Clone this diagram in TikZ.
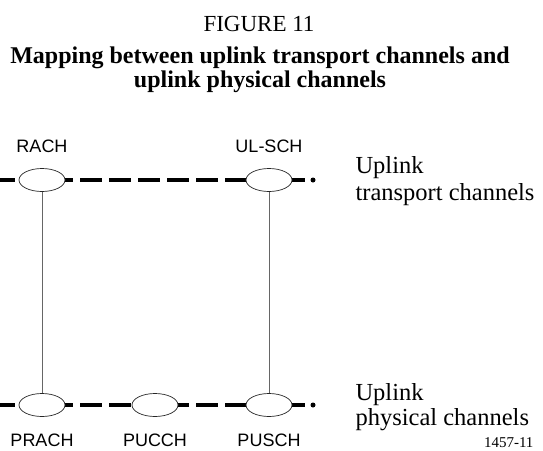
\documentclass[tikz,border=0pt]{standalone}
\usepackage{fontspec}
\setmainfont{Liberation Serif}
\newfontfamily\labfont{Liberation Sans}
\usetikzlibrary{shapes.geometric}
\begin{document}
\begin{tikzpicture}[x=1pt,y=-1pt,
  chan/.style={ellipse,draw=black!85,line width=0.7pt,fill=white,minimum width=46pt,minimum height=23pt,inner sep=0pt},
  bus/.style={line width=4.8pt,dash pattern=on 22pt off 7pt},
  enddot/.style={circle,fill=black,inner sep=0pt,minimum size=5pt},
  link/.style={draw=black!60,line width=0.8pt},
  lab/.style={anchor=base,font=\labfont\fontsize{18}{20}\selectfont},
  side/.style={anchor=base west,font=\fontsize{24.5}{27}\selectfont},
  ttl/.style={anchor=base,font=\fontsize{24}{27}\selectfont\bfseries}
]
\useasboundingbox (0,0) rectangle (543,450);
% title
\node[anchor=base,font=\fontsize{23}{26}\selectfont] (fig) at (259,31) {FIGURE 11};
\node[ttl] (t1) at (260,63) {Mapping between uplink transport channels and};
\node[ttl] (t2) at (260,87) {uplink physical channels};
% top bus
\coordinate (tl) at (-7,180);
\coordinate (tr) at (305,180);
\draw[bus] (tl) -- (tr);
\node[enddot] (tdot) at (313,180) {};
\node[chan] (rach) at (42,180) {};
\node[chan] (ulsch) at (269,180) {};
% bottom bus
\coordinate (bl) at (-7,405);
\coordinate (br) at (305,405);
\draw[bus] (bl) -- (br);
\node[enddot] (bdot) at (313,405) {};
\node[chan] (prach) at (42,405) {};
\node[chan] (pucch) at (155,405) {};
\node[chan] (pusch) at (269,405) {};
% links
\draw[link] (rach) -- (prach);
\draw[link] (ulsch) -- (pusch);
% labels
\node[lab] (lrach) at (42,152) {RACH};
\node[lab] (lulsch) at (269,152) {UL-SCH};
\node[lab] (lprach) at (42,446) {PRACH};
\node[lab] (lpucch) at (155,446) {PUCCH};
\node[lab] (lpusch) at (269,446) {PUSCH};
% side texts
\node[side] (s1) at (352,173) {Uplink};
\node[side] (s2) at (352,200) {transport channels};
\node[side] (s3) at (352,400) {Uplink};
\node[side] (s4) at (352,425) {physical channels};
\node[anchor=base east,font=\fontsize{15}{17}\selectfont] (num) at (537,447) {1457-11};
\end{tikzpicture}
\end{document}
